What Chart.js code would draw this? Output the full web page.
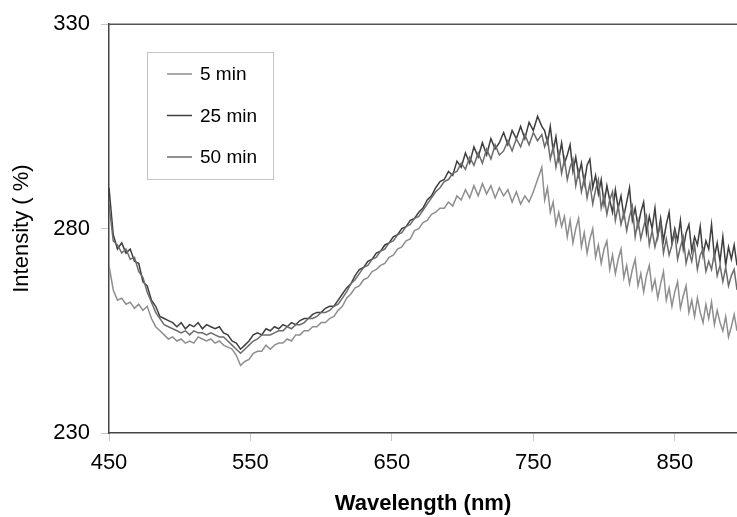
<!DOCTYPE html>
<html>
<head>
<meta charset="utf-8">
<script src="https://cdn.jsdelivr.net/npm/chart.js@4.4.1/dist/chart.umd.min.js"></script>
<style>
  html, body { margin: 0; padding: 0; background: #fff; }
  #wrap { width: 737px; height: 517px; position: relative; }
</style>
</head>
<body>
<div id="wrap"><canvas id="chart"></canvas></div>
<script>
// ===== DATA =====
// 3 nm steps up to 756, then 2 nm steps (noisier part of the spectrum)
const wavelengths = [
  450,453,456,459,462,465,468,471,474,477,
  480,483,486,489,492,495,498,501,504,507,
  510,513,516,519,522,525,528,531,534,537,
  540,543,546,549,552,555,558,561,564,567,
  570,573,576,579,582,585,588,591,594,597,
  600,603,606,609,612,615,618,621,624,627,
  630,633,636,639,642,645,648,651,654,657,
  660,663,666,669,672,675,678,681,684,687,
  690,693,696,699,702,705,708,711,714,717,
  720,723,726,729,732,735,738,741,744,747,
  750,753,756,
  758,760,762,764,766,768,770,772,774,776,
  778,780,782,784,786,788,790,792,794,796,
  798,800,802,804,806,808,810,812,814,816,
  818,820,822,824,826,828,830,832,834,836,
  838,840,842,844,846,848,850,852,854,856,
  858,860,862,864,866,868,870,872,874,876,
  878,880,882,884,886,888,890,892,894
];

const min5 = [
  271,265,262.5,263,261.5,262,260.5,261.5,260,261,
  258,256,255,254,253,253.5,252.5,253,252,252.5,
  252,253.5,253,252.5,253,252,252.5,251.5,251,250.5,
  249,246.5,247.5,248,249.5,250,250,251.5,250.5,251.5,
  252,252,253,252.5,254,254,255,255,256,256,
  257,257,258,258.5,260,261,263,264,265.5,266,
  267.5,268,269.5,270,271,271.5,273,273.5,275,275.5,
  277,277.5,279.5,280,281.5,282,283.5,284,285,285,
  286.5,285.5,288,287,289.5,287.5,290.5,288,291,288.5,
  290.5,287.5,290,288,289.5,286.5,289,286,288,286.5,
  289,292,295,
  287,290,284,286.5,281,284,280.5,283,278,282,
  276.5,280,282.5,275.5,279,274,277.5,280,273,276,
  271.5,275,277,270,273.5,269,272.5,275,268,271,
  266.5,270,272.5,266,269,264.5,268.5,271,265,267.5,
  263,266.5,269.5,262.5,265.5,261,264.5,267,260.5,263.5,
  266,259.5,262.5,258.5,263,259.5,257,261.5,258,262,
  256.5,260,257,255,258.5,253.5,256,259,255
];

const min25 = [
  290,278.5,275,276.5,274,275,272,271.5,267,266,
  262.5,261,258.5,258,257.5,257,256,257,255.5,256.5,
  256,257,255.5,256.5,256,255.5,256,254.5,254,252.5,
  252,250.5,251.5,252.5,254,254.5,254,255.5,255,256,
  255.5,256.5,256,257,256.5,257.5,258,258,259,259.5,
  259.5,260.5,261,261,262.5,264,265.5,266.5,268.5,270,
  270.5,272,272.5,274,274.5,276,276.5,278,278.5,280,
  280.5,282,282.5,284,285,287,288,290,291.5,292,
  294,293,296.5,295,298.5,296,300,297.5,301,298,
  302,299.5,301,303.5,300.5,304,302,305,302,306,
  304,307.5,305,
  304,301,305,299,302.5,297,301,296,298,300.5,
  294,297.5,293,296,291,295.5,297,290,293,288.5,
  292,286,290.5,287,284,289.5,285,288,283,286.5,
  290,282,285,280.5,284,286.5,279,283,280,285,
  278,282.5,277,281,284,276.5,280,277,282,275,
  279,281,274.5,278,276,280.5,273.5,277,275,281,
  273,276.5,272,278,271,275.5,272.5,276,271
];

const min50 = [
  286,277,276,274,275,272.5,273,269.5,268,264.5,
  262,259.5,258,256.5,256,255.5,255,254.5,255,254,
  255,254.5,254.5,254,254.5,254,253.5,253.5,252.5,251.5,
  250.5,249.5,250.5,251.5,252.5,253,254,254,254,254.5,
  255,255,256,255.5,256.5,256.5,257,258,258,258.5,
  259.5,259.5,260,261,261.5,263,264.5,266.5,267.5,269,
  270.5,271,272.5,273,274.5,275,276.5,277,278.5,279,
  280.5,281,282.5,283,284.5,286,287.5,289,290,291.5,
  292,293.5,294,296,294.5,297.5,295.5,298.5,296,299.5,
  297,300.5,298,299,301.5,299,302,300,303,300.5,
  303.5,301.5,303,
  300,302,297,300,295,298.5,293.5,297,292,295,
  297,290.5,294,289,292.5,287.5,291,286,289.5,292,
  285,288,283.5,287,289,282,285.5,281,284,279.5,
  283,285.5,278,282,277.5,280.5,283,276,279.5,275.5,
  278.5,281,274,277.5,273.5,276,279,272.5,275.5,278,
  271.5,274.5,272,276,270,273.5,275,269.5,272,270,
  274,268.5,271,267,270.5,266,268.5,270,265
];

const seriesNames = ['5 min', '25 min', '50 min'];
const seriesColors = ['#8e8e8e', '#3e3e3e', '#6c6c6c'];
const xTicks = [450, 550, 650, 750, 850];
const yTicks = [230, 280, 330];

const toPoints = ys => ys.map((y, i) => ({ x: wavelengths[i], y: y }));

const FONT = '"Liberation Sans", Arial, sans-serif';

// legend box + top frame line, drawn by hand
const frameAndLegend = {
    id: 'frameAndLegend',
    afterDraw(chart) {
        const ctx = chart.ctx;
        const area = chart.chartArea;
        ctx.save();
        ctx.strokeStyle = '#555';
        ctx.lineWidth = 1.5;
        ctx.beginPath();
        ctx.moveTo(area.left, area.top);
        ctx.lineTo(area.right, area.top);
        ctx.stroke();

        // legend
        ctx.strokeStyle = '#c4c4c4';
        ctx.lineWidth = 1;
        ctx.strokeRect(147.5, 52.5, 126, 127);
        ctx.font = '19px ' + FONT;
        ctx.textBaseline = 'middle';
        ctx.fillStyle = '#000';
        chart.data.datasets.forEach((ds, i) => {
            const y = 74 + i * 41.5;
            ctx.strokeStyle = ds.borderColor;
            ctx.lineWidth = 1.5;
            ctx.beginPath();
            ctx.moveTo(167, y);
            ctx.lineTo(192, y);
            ctx.stroke();
            ctx.fillText(ds.label, 200, y + 1);
        });
        ctx.restore();
    }
};

new Chart(document.getElementById('chart'), {
    type: 'line',
    data: {
        datasets: [
            { label: seriesNames[0], data: toPoints(min5), borderColor: seriesColors[0], order: 2 },
            { label: seriesNames[1], data: toPoints(min25), borderColor: seriesColors[1], order: 1 },
            { label: seriesNames[2], data: toPoints(min50), borderColor: seriesColors[2], order: 0 }
        ]
    },
    options: {
        responsive: true,
        maintainAspectRatio: false,
        animation: false,
        layout: { padding: { top: 23, right: 0, left: 0, bottom: 0 } },
        elements: {
            line: { borderWidth: 1.5, tension: 0 },
            point: { radius: 0 }
        },
        plugins: {
            legend: { display: false },
            tooltip: { enabled: false }
        },
        scales: {
            x: {
                type: 'linear',
                min: 450,
                max: 894,
                afterBuildTicks: s => { s.ticks = xTicks.map(v => ({ value: v })); },
                afterFit: s => { s.height = 84; },
                grid: { drawOnChartArea: false, drawTicks: true, tickLength: 8, color: '#c8c8c8' },
                border: { display: true, color: '#444', width: 1.5 },
                ticks: {
                    color: '#000',
                    padding: 9,
                    maxRotation: 0,
                    font: { family: FONT, size: 22 }
                },
                title: {
                    display: true,
                    text: 'Wavelength (nm)',
                    color: '#000',
                    padding: { top: 0, bottom: 0 },
                    font: { family: FONT, size: 22, weight: 'bold' }
                }
            },
            y: {
                min: 230,
                max: 330,
                afterBuildTicks: s => { s.ticks = yTicks.map(v => ({ value: v })); },
                afterFit: s => { s.width = 109; },
                grid: { drawOnChartArea: false, drawTicks: true, tickLength: 8, color: '#c8c8c8' },
                border: { display: true, color: '#444', width: 1.5 },
                ticks: {
                    color: '#000',
                    padding: 11,
                    font: { family: FONT, size: 22 }
                },
                title: {
                    display: true,
                    text: 'Intensity ( %)',
                    color: '#000',
                    padding: { top: 9, bottom: 0 },
                    font: { family: FONT, size: 22 }
                }
            }
        }
    },
    plugins: [frameAndLegend]
});
</script>
</body>
</html>
